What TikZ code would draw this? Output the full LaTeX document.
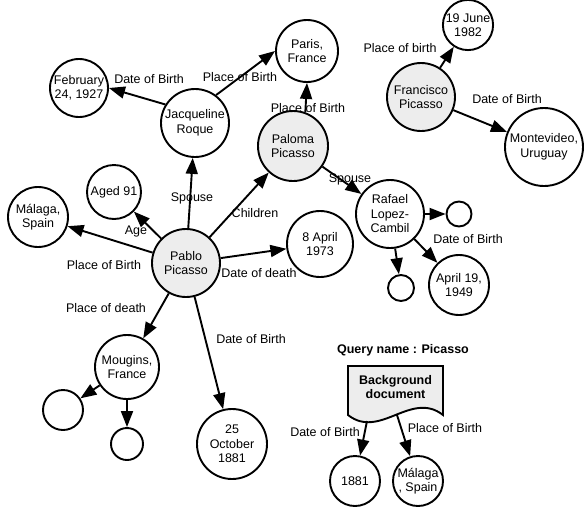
\documentclass[tikz,border=0pt]{standalone}
\usepackage{fontspec}
\setmainfont{Liberation Sans}
\usetikzlibrary{arrows.meta}

\tikzset{
  ent/.style={draw, circle, line width=1.9pt, inner sep=0pt, align=center, font=\fontsize{12.5}{14.5}\selectfont},
  hub/.style={ent, fill=black!7},
  lbl/.style={font=\fontsize{12.5}{14.5}\selectfont, inner sep=0pt},
  arr/.style={line width=1.9pt, -{Triangle[length=16pt,width=12pt]}},
}

\begin{document}
\begin{tikzpicture}[x=1pt,y=-1pt]
\useasboundingbox (0,0) rectangle (584,512);

\node[hub, minimum size=68pt] (pablo) at (186,263) {Pablo\\Picasso};
\node[ent, minimum size=68pt] (jacq) at (195,123) {Jacqueline\\Roque};
\node[ent, minimum size=58pt] (feb) at (79,88) {February\\24, 1927};
\node[ent, minimum size=62pt] (paris) at (307,51) {Paris,\\France};
\node[hub, minimum size=70pt] (paloma) at (293,146) {Paloma\\Picasso};
\node[ent, minimum size=54pt] (aged) at (114,192) {Aged 91};
\node[ent, minimum size=60pt] (malaga) at (38,217) {Málaga,\\Spain};
\node[ent, minimum size=66pt] (death) at (320,244) {8 April\\1973};
\node[ent, minimum size=68pt] (rafael) at (390,214) {Rafael\\Lopez-\\Cambil};
\node[ent, minimum size=25pt] (rafa) at (459,214) {};
\node[ent, minimum size=26pt] (rafb) at (401,288) {};
\node[ent, minimum size=60pt] (april) at (459,285) {April 19,\\1949};
\node[ent, minimum size=50pt] (june) at (468,25) {19 June\\1982};
\node[hub, minimum size=68pt] (franc) at (421,97) {Francisco\\Picasso};
\node[ent, minimum size=78pt] (monte) at (544,147) {Montevideo,\\Uruguay};
\node[ent, minimum size=64pt] (moug) at (127,367) {Mougins,\\France};
\node[ent, minimum size=40pt] (mouga) at (63,410) {};
\node[ent, minimum size=32pt] (mougb) at (127,444) {};
\node[ent, minimum size=70pt] (born) at (232,444) {25\\October\\1881};

\node[lbl, font=\fontsize{12.5}{14.5}\selectfont\bfseries] (query) at (403,350) {Query name : Picasso};
\node[minimum width=95pt, minimum height=49pt, inner sep=0pt, outer sep=0pt] (doc) at (395.5,390.5) {};
\draw[line width=1.9pt, fill=black!7] (doc.south east) -- (doc.north east) -- (doc.north west) -- (doc.south west)
  .. controls +(32,25) and +(-32,-25) .. (doc.south east) -- cycle;
\node[lbl, align=center, font=\fontsize{12.5}{14.5}\selectfont\bfseries] (doctext) at (395.5,387) {Background\\document};
\coordinate (docl) at (367,421);
\coordinate (docr) at (397,415);
\node[ent, minimum size=50pt] (qyear) at (355,481) {1881};
\node[ent, minimum size=50pt] (qplace) at (418,481) {Málaga\\, Spain};

\draw[arr] (pablo) -- (jacq);
\draw[arr] (pablo) -- (paloma);
\draw[arr] (pablo) -- (aged);
\draw[arr] (pablo) -- (malaga);
\draw[arr] (pablo) -- (death);
\draw[arr] (pablo) -- (moug);
\draw[arr] (pablo) -- (born);
\draw[arr] (jacq.148) -- (feb.0);
\draw[arr] (jacq.53) -- (paris.180);
\draw[arr] (paloma.70) -- (paris.south);
\draw[arr] (paloma) -- (rafael);
\draw[arr] (rafael) -- (rafa);
\draw[arr] (rafael) -- (rafb);
\draw[arr] (rafael) -- (april);
\draw[arr] (franc) -- (june);
\draw[arr] (franc) -- (monte);
\draw[arr] (moug) -- (mouga);
\draw[arr] (moug) -- (mougb);
\draw[arr] (docl) -- (qyear);
\draw[arr] (docr) -- (qplace);

\node[lbl] (l1) at (149,79) {Date of Birth};
\node[lbl] (l2) at (240,77) {Place of Birth};
\node[lbl] (l3) at (308,108) {Place of Birth};
\node[lbl] (l4) at (192,198) {Spouse};
\node[lbl] (l5) at (136,231) {Age};
\node[lbl] (l6) at (255,213) {Children};
\node[lbl] (l7) at (104,265) {Place of Birth};
\node[lbl] (l8) at (259,273) {Date of death};
\node[lbl] (l9) at (106,308) {Place of death};
\node[lbl] (l10) at (251,339) {Date of Birth};
\node[lbl] (l11) at (350,179) {Spouse};
\node[lbl] (l12) at (468,239) {Date of Birth};
\node[lbl] (l13) at (400,48) {Place of birth};
\node[lbl] (l14) at (507,99) {Date of Birth};
\node[lbl] (l15) at (325,432) {Date of Birth};
\node[lbl] (l16) at (445,428) {Place of Birth};
\end{tikzpicture}
\end{document}
